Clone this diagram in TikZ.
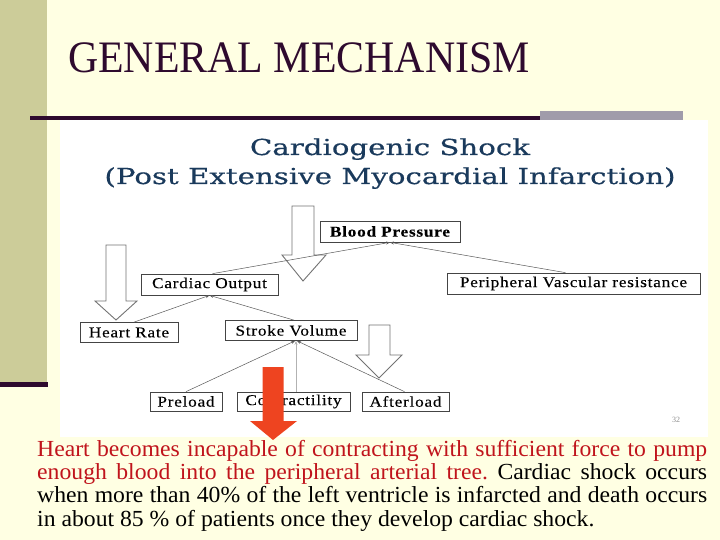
\documentclass[tikz,border=0pt]{standalone}
\usepackage{fontspec}
\setmainfont{Liberation Serif}
\newfontfamily\titlefont[FakeStretch=0.93]{Liberation Serif}
\newfontfamily\charttitlefont[FakeStretch=1.33,FakeBold=0.5]{DejaVu Serif}
\newfontfamily\boxfont[FakeStretch=1.15,LetterSpace=5,FakeBold=0.2]{Liberation Serif}
\newfontfamily\bodyfont[FakeStretch=1.03]{Liberation Serif}
\usetikzlibrary{arrows.meta,calc}
\definecolor{bgcream}{HTML}{FFFFE3}
\definecolor{barkhaki}{HTML}{CCCC99}
\definecolor{darkplum}{HTML}{2E0A2E}
\definecolor{bargray}{HTML}{A09CAA}
\definecolor{navy}{HTML}{1A3A5C}
\definecolor{redtext}{HTML}{C0141C}
\definecolor{redarrow}{HTML}{EE4420}
\definecolor{boxline}{HTML}{444444}
\tikzset{
  diagbox/.style={draw=boxline, line width=0.7pt, fill=white, inner sep=0pt,
    minimum height=21pt, font=\boxfont\fontsize{15}{15}\selectfont},
  hollowarrow/.style={draw=black!55, fill=white, line width=0.9pt},
  redarrowstyle/.style={fill=redarrow},
  conn/.style={draw=black!65, line width=0.5pt, -{Stealth[length=4pt,width=3pt]}},
  connlight/.style={draw=black!30, line width=0.5pt, -{Stealth[length=4pt,width=3pt]}}
}
\begin{document}
\begin{tikzpicture}[x=1pt,y=-1pt]
\useasboundingbox (0,0) rectangle (720,540);
% background
\fill[bgcream] (0,0) rectangle (720,540);
\fill[barkhaki] (0,0) rectangle (47,383);
\fill[darkplum] (0,382) rectangle (48,387);
\fill[white] (60,120) rectangle (708,437);
\fill[bargray] (540,111) rectangle (683,120);
\fill[darkplum] (30,116) rectangle (540,120);
% title
\node[anchor=base west, inner sep=0pt, text=darkplum,
  font=\titlefont\fontsize{45}{45}\selectfont] (title) at (68,73) {GENERAL MECHANISM};
% chart title
\node[anchor=base, inner sep=0pt, text=navy,
  font=\charttitlefont\fontsize{22}{22}\selectfont] (ct1) at (390,155) {Cardiogenic Shock};
\node[anchor=base, inner sep=0pt, text=navy,
  font=\charttitlefont\fontsize{22}{22}\selectfont] (ct2) at (390,184) {(Post Extensive Myocardial Infarction)};
% hollow arrows
\draw[hollowarrow] (292,206) -- (314,206) -- (314,255) -- (326,255) -- (303,281) -- (282,255) -- (292,255) -- cycle;
\draw[hollowarrow] (106,245) -- (126,245) -- (126,301) -- (137,301) -- (116,320) -- (95,301) -- (106,301) -- cycle;
\draw[hollowarrow] (369,325) -- (390,325) -- (390,355) -- (402,355) -- (379,378) -- (356,355) -- (369,355) -- cycle;
% boxes
\node[diagbox, minimum width=140pt, font=\boxfont\bfseries\fontsize{15}{15}\selectfont] (bp) at (390,231.5) {Blood Pressure};
\node[diagbox, minimum width=137pt] (co) at (209.5,284.5) {Cardiac Output};
\node[diagbox, minimum width=253pt] (pvr) at (573.5,283.5) {Peripheral Vascular resistance};
\node[diagbox, minimum width=98pt, minimum height=20pt] (hr) at (129,332.5) {Heart Rate};
\node[diagbox, minimum width=132pt, minimum height=20pt] (sv) at (291,330.5) {Stroke Volume};
\node[diagbox, minimum width=72pt, minimum height=19pt] (pre) at (186,401.5) {Preload};
\node[diagbox, minimum width=113pt, minimum height=19pt] (con) at (293.5,401.5) {Contractility};
\node[diagbox, minimum width=87pt, minimum height=19pt] (aft) at (405.5,401.5) {Afterload};
% connectors
\draw[conn] ($(co.north)+(3,0)$) -- (bp.south);
\draw[conn] ($(pvr.north)+(-8,0)$) -- (bp.south);
\draw[conn] ($(hr.north)+(5,0)$) -- (co.south);
\draw[conn] ($(sv.north)+(3,0)$) -- (co.south);
\draw[conn] (pre.north) -- ($(sv.south)+(4,0)$);
\draw[connlight] ($(con.north)+(2.5,0)$) -- ($(sv.south)+(5,0)$);
\draw[conn] ($(aft.north)+(-1,0)$) -- ($(sv.south)+(6,0)$);
% red arrow
\fill[redarrowstyle] (262.5,367) -- (283.5,367) -- (283.5,421) -- (297,421) -- (273,440) -- (250,421) -- (262.5,421) -- cycle;
% page number
\node[inner sep=0pt, text=black!45, font=\fontsize{8}{8}\selectfont] (pg) at (676,420) {32};
% body text
\node[anchor=north west, inner sep=0pt, text width=670pt, align=justify,
  font=\bodyfont\fontsize{23}{23.3}\selectfont\frenchspacing] (body) at (37,440)
  {\textcolor{redtext}{Heart becomes incapable of contracting with sufficient force to pump\linebreak enough blood into the peripheral arterial tree.} Cardiac shock occurs\linebreak when more than 40\% of the left ventricle is infarcted and death occurs\linebreak in about 85 \% of patients once they develop cardiac shock.};
\end{tikzpicture}
\end{document}
